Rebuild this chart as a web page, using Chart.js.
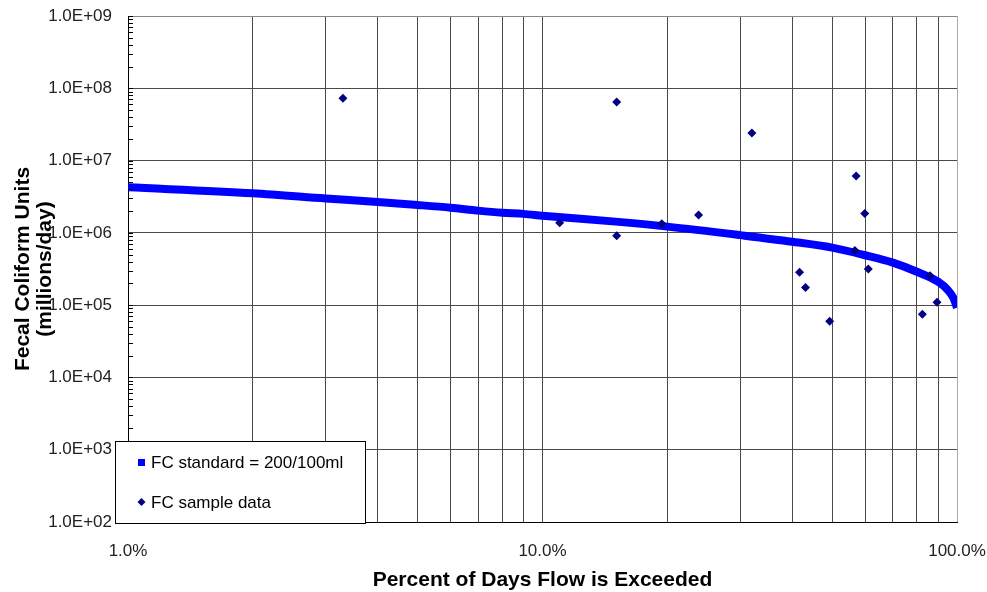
<!DOCTYPE html>
<html>
<head>
<meta charset="utf-8">
<script src="https://cdn.jsdelivr.net/npm/chart.js@4.4.0/dist/chart.umd.min.js"></script>
<style>
  html, body { margin: 0; padding: 0; background: #fff; }
  #wrap { width: 987px; height: 592px; }
</style>
</head>
<body>
<div id="wrap"><canvas id="chart" width="987" height="592"></canvas></div>
<script>
// FC standard load duration curve (percent of days exceeded -> millions/day)
const stdPct  = [1, 2, 3, 4, 5, 6, 7, 8, 9, 10, 15, 20, 30, 40, 50, 60, 70, 80, 90, 95, 98, 99.5, 100];
const stdLoad = [4.27e6, 3.53e6, 2.99e6, 2.67e6, 2.43e6, 2.23e6, 2.03e6, 1.90e6, 1.83e6, 1.73e6,
                 1.43e6, 1.22e6, 9.3e5, 7.55e5, 6.24e5, 4.9e5, 3.87e5, 2.90e5, 2.11e5,
                 1.62e5, 1.26e5, 1.0e5, 9.2e4];

// FC sample data
const samplePct  = [3.3, 11.0, 15.1, 15.1, 19.4, 23.8, 32.0, 41.7, 43.1, 49.3, 56.7, 57.1, 59.9, 61.1, 82.5, 86.1, 89.5];
const sampleLoad = [7.3e7, 1.38e6, 6.46e7, 9.1e5, 1.34e6, 1.77e6, 2.41e7, 2.85e5, 1.75e5, 6.0e4, 5.7e5, 6.1e6, 1.85e6, 3.17e5, 7.5e4, 2.56e5, 1.10e5];

// axis ticks
const xMajor = [1, 10, 100];
const xTickLabels = ['1.0%', '10.0%', '100.0%'];
const yMajor = [1e2, 1e3, 1e4, 1e5, 1e6, 1e7, 1e8, 1e9];
const yTickLabels = ['1.0E+02', '1.0E+03', '1.0E+04', '1.0E+05', '1.0E+06', '1.0E+07', '1.0E+08', '1.0E+09'];

const FONT = "'Liberation Sans', Arial, sans-serif";

const isIn = (list, v) => list.findIndex(d => Math.abs(v / d - 1) < 1e-6);

// 1..9 per decade between the major ticks
const logTicks = majors => {
  const out = [];
  majors.forEach((d, i) => {
    if (i === majors.length - 1) { out.push({ value: d }); return; }
    for (let k = 1; k <= 9; k++) out.push({ value: k * d });
  });
  return out;
};

// keep tick labels from pushing the plot area around
const noPad = s => { s.paddingTop = 0; s.paddingBottom = 0; s.paddingLeft = 0; s.paddingRight = 0; };

const overlay = {
  id: 'overlay',
  afterDraw(chart) {
    const { ctx, chartArea: a, scales: { y } } = chart;
    ctx.save();

    // short ticks inside the value axis
    ctx.strokeStyle = '#000';
    ctx.lineWidth = 1;
    y.ticks.forEach(t => {
      const py = Math.round(y.getPixelForValue(t.value)) + 0.5;
      ctx.beginPath();
      ctx.moveTo(a.left, py);
      ctx.lineTo(a.left + 5, py);
      ctx.stroke();
    });

    // legend box, bottom left over the plot
    const lx = a.left - 13, ly = a.bottom - 81, lw = 250, lh = 82;
    ctx.fillStyle = '#fff';
    ctx.fillRect(lx, ly, lw, lh);
    ctx.strokeStyle = '#000';
    ctx.strokeRect(lx + 0.5, ly + 0.5, lw, lh);

    ctx.fillStyle = '#0000FF';
    ctx.fillRect(lx + 23, ly + 18, 7, 7);
    ctx.fillStyle = '#000080';
    ctx.beginPath();
    ctx.moveTo(lx + 26.5, ly + 57);
    ctx.lineTo(lx + 30.5, ly + 61);
    ctx.lineTo(lx + 26.5, ly + 65);
    ctx.lineTo(lx + 22.5, ly + 61);
    ctx.closePath();
    ctx.fill();

    ctx.fillStyle = '#000';
    ctx.font = '17px ' + FONT;
    ctx.textBaseline = 'middle';
    ctx.textAlign = 'left';
    ctx.fillText('FC standard = 200/100ml', lx + 36, ly + 22);
    ctx.fillText('FC sample data', lx + 36, ly + 62);
    ctx.restore();
  }
};

Chart.defaults.font.family = FONT;

new Chart(document.getElementById('chart'), {
  type: 'scatter',
  data: {
    datasets: [
      {
        label: 'FC sample data',
        data: samplePct.map((x, i) => ({ x, y: sampleLoad[i] })),
        pointStyle: 'rectRot',
        pointRadius: 4.5,
        backgroundColor: '#000080',
        borderColor: '#000080',
        borderWidth: 0,
        showLine: false,
        order: 0
      },
      {
        label: 'FC standard = 200/100ml',
        data: stdPct.map((x, i) => ({ x, y: stdLoad[i] })),
        showLine: true,
        borderColor: '#0000FF',
        backgroundColor: '#0000FF',
        borderWidth: 8,
        pointRadius: 0,
        cubicInterpolationMode: 'monotone',
        fill: false,
        order: 1
      }
    ]
  },
  options: {
    responsive: false,
    animation: false,
    devicePixelRatio: 1,
    layout: { padding: { top: 16, right: 30, left: 0, bottom: 0 } },
    plugins: { legend: { display: false }, tooltip: { enabled: false } },
    scales: {
      x: {
        type: 'logarithmic',
        position: 'bottom',
        min: 1,
        max: 100,
        afterBuildTicks: s => { s.ticks = logTicks(xMajor); },
        afterFit: s => { s.height = 70; noPad(s); },
        ticks: {
          autoSkip: false,
          maxRotation: 0,
          padding: 19,
          color: '#222',
          font: { size: 17 },
          callback: v => { const i = isIn(xMajor, v); return i >= 0 ? xTickLabels[i] : ''; }
        },
        grid: {
          drawTicks: false,
          lineWidth: 1,
          color: c => (c.tick && Math.abs(c.tick.value - 100) < 1e-6) ? '#aaa' : '#4a4a4a'
        },
        border: { color: '#000', width: 1 },
        title: {
          display: true,
          text: 'Percent of Days Flow is Exceeded',
          color: '#000',
          font: { size: 21, weight: 'bold', lineHeight: 1.1 },
          padding: { top: 0, bottom: 0 }
        }
      },
      y: {
        type: 'logarithmic',
        min: 100,
        max: 1e9,
        afterBuildTicks: s => { s.ticks = logTicks(yMajor); },
        afterFit: s => { s.width = 128; noPad(s); },
        ticks: {
          autoSkip: false,
          padding: 16,
          color: '#222',
          font: { size: 17 },
          callback: v => { const i = isIn(yMajor, v); return i >= 0 ? yTickLabels[i] : ''; }
        },
        grid: {
          drawTicks: false,
          lineWidth: 1,
          color: c => {
            if (!c.tick || isIn(yMajor, c.tick.value) < 0) return 'rgba(0,0,0,0)';
            return Math.abs(c.tick.value - 1e9) < 1 ? '#888' : '#4a4a4a';
          }
        },
        border: { color: '#000', width: 1 },
        title: {
          display: true,
          text: ['Fecal Coliform Units', '(millions/day)'],
          color: '#000',
          font: { size: 21, weight: 'bold', lineHeight: 1.05 },
          padding: { top: 12, bottom: 0 }
        }
      }
    }
  },
  plugins: [overlay]
});
</script>
</body>
</html>
